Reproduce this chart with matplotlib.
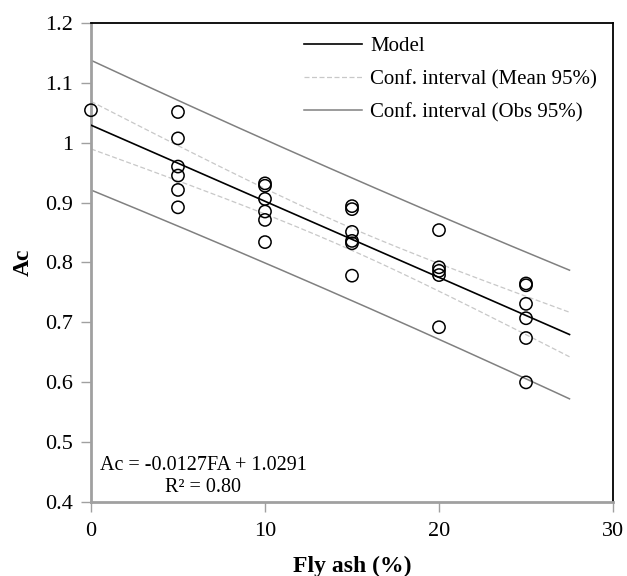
import numpy as np
import matplotlib
matplotlib.use("Agg")
import matplotlib.pyplot as plt

plt.rcParams['font.family'] = ['Liberation Serif', 'DejaVu Serif']
plt.rcParams['mathtext.fontset'] = 'stix'

# Measured Ac for each fly ash replacement level (%)
fly_ash = [0,
           5, 5, 5, 5, 5, 5,
           10, 10, 10, 10, 10, 10,
           15, 15, 15, 15, 15, 15,
           20, 20, 20, 20, 20,
           25, 25, 25, 25, 25, 25]
ac = [1.054,
      1.051, 1.007, 0.960, 0.945, 0.921, 0.892,
      0.932, 0.928, 0.906, 0.885, 0.871, 0.834,
      0.894, 0.889, 0.851, 0.836, 0.832, 0.778,
      0.854, 0.792, 0.786, 0.779, 0.692,
      0.765, 0.762, 0.731, 0.707, 0.674, 0.600]

# Fitted model Ac = slope*FA + intercept
slope = -0.0127
intercept = 1.0291
r2 = 0.80
fa_range = (0, 27.5)
t_975 = 2.048  # Student t, 95% two-sided, df = n - 2 = 28

x = np.array(fly_ash, dtype=float)
y = np.array(ac)
n = len(x)

# Residual standard error and confidence bands
resid = y - (slope * x + intercept)
s = np.sqrt(np.sum(resid ** 2) / (n - 2))
x_mean = x.mean()
sxx = np.sum((x - x_mean) ** 2)

xf = np.linspace(fa_range[0], fa_range[1], 200)
yf = slope * xf + intercept
lev = 1.0 / n + (xf - x_mean) ** 2 / sxx
half_mean = t_975 * s * np.sqrt(lev)
half_obs = t_975 * s * np.sqrt(1.0 + lev)

fig = plt.figure(figsize=(6.27, 5.76), dpi=100)
ax = fig.add_axes([0.1451, 0.1280, 0.8326, 0.8326])

ax.plot(xf, yf, color='black', lw=1.2, label='Model', zorder=3)
ax.plot(xf, yf + half_mean, color='#c8c8c8', lw=0.9, ls=(0, (4, 2)),
        label='Conf. interval (Mean 95%)', zorder=2)
ax.plot(xf, yf - half_mean, color='#c8c8c8', lw=0.9, ls=(0, (4, 2)), zorder=2)
ax.plot(xf, yf + half_obs, color='#808080', lw=1.1,
        label='Conf. interval (Obs 95%)', zorder=2)
ax.plot(xf, yf - half_obs, color='#808080', lw=1.1, zorder=2)

ax.scatter(x, y, s=78, facecolors='none', edgecolors='black',
           linewidths=1.1, zorder=4, clip_on=False)

ax.set_xlim(0, 30)
ax.set_ylim(0.4, 1.2)
ax.set_xticks([0, 10, 20, 30])
ax.set_yticks(np.arange(0.4, 1.21, 0.1))
ax.set_yticklabels(['0.4', '0.5', '0.6', '0.7', '0.8', '0.9', '1', '1.1', '1.2'])
ax.tick_params(axis='both', direction='out', length=7, width=1,
               color='#a0a0a0', labelsize=16)
ax.tick_params(axis='y', pad=6)
ax.tick_params(axis='x', pad=7)

for side in ('left', 'bottom'):
    ax.spines[side].set_color('#a0a0a0')
    ax.spines[side].set_linewidth(2)
for side in ('top', 'right'):
    ax.spines[side].set_color('black')
    ax.spines[side].set_linewidth(1.3)

ax.set_xlabel('Fly ash (%)', fontsize=17, fontweight='bold', labelpad=11)
ax.set_ylabel('Ac', fontsize=17, fontweight='bold', labelpad=8)

ax.legend(loc='upper left', bbox_to_anchor=(0.373, 1.01), frameon=False,
          fontsize=15, handlelength=2.75, handletextpad=0.4, labelspacing=0.65)

ax.text(0.017, 0.012, 'Ac = %.4fFA + %.4f\nR² = %.2f' % (slope, intercept, r2),
        transform=ax.transAxes, fontsize=14.5, ha='left', va='bottom',
        multialignment='center', linespacing=1.2)

fig.savefig('out.png', dpi=100)
